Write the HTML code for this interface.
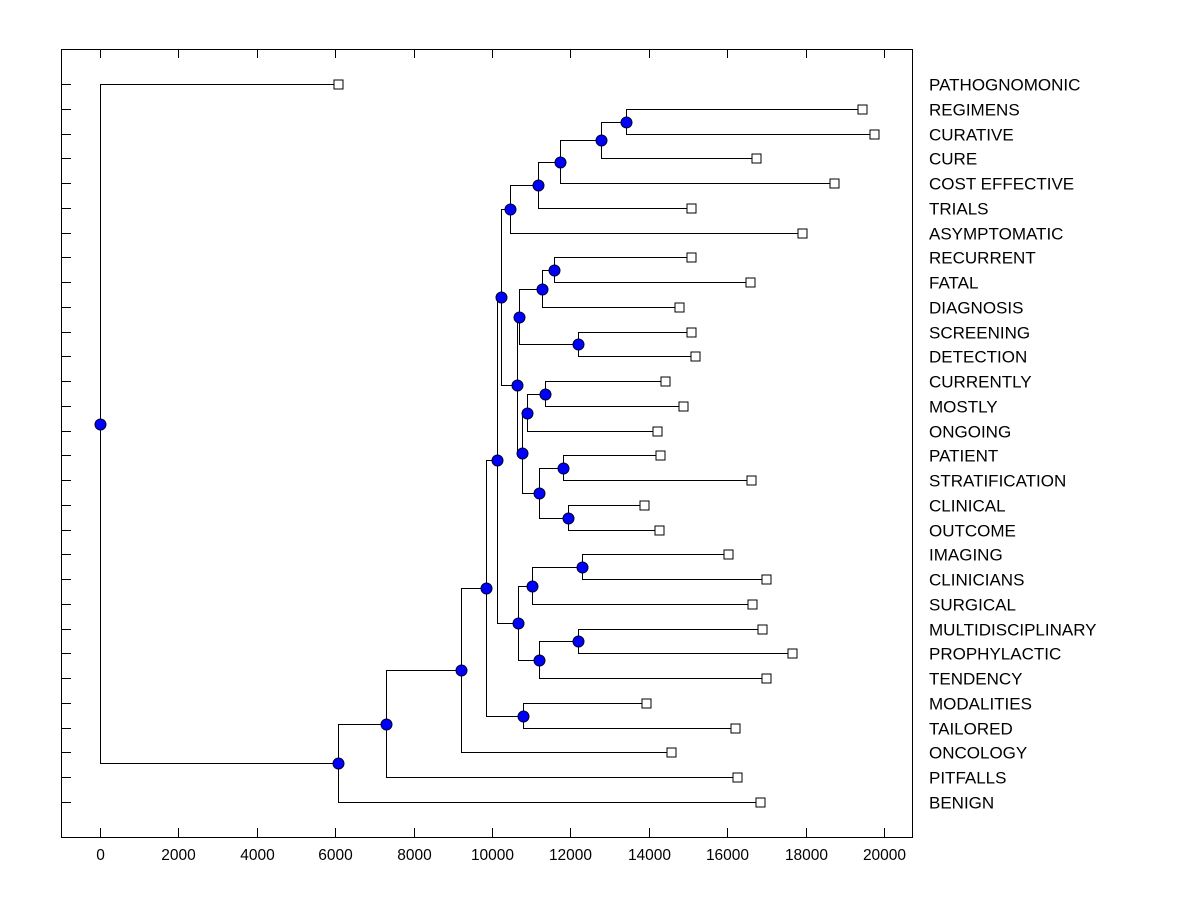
<!DOCTYPE html>
<html><head><meta charset="utf-8"><style>
html,body{margin:0;padding:0;background:#fff;}
svg{display:block;font-family:"Liberation Sans",Arial,sans-serif;}
</style></head><body>
<svg id="chart" width="1200" height="900" viewBox="0 0 1200 900">
<rect x="61.5" y="49.5" width="851" height="788" fill="none" stroke="#000" stroke-width="1"/>
<g id="axis"></g>
<g id="yt"></g>
<g id="links"></g>
<g id="leaves"></g>
<g id="nodes"></g>
<g id="labels"></g>
</svg>
<script>
const labels = ["PATHOGNOMONIC","REGIMENS","CURATIVE","CURE","COST EFFECTIVE","TRIALS","ASYMPTOMATIC","RECURRENT","FATAL","DIAGNOSIS","SCREENING","DETECTION","CURRENTLY","MOSTLY","ONGOING","PATIENT","STRATIFICATION","CLINICAL","OUTCOME","IMAGING","CLINICIANS","SURGICAL","MULTIDISCIPLINARY","PROPHYLACTIC","TENDENCY","MODALITIES","TAILORED","ONCOLOGY","PITFALLS","BENIGN"];
const leafValues = [6071,19439,19745,16735,18724,15077,17908,15077,16582,14770,15077,15179,14413,14872,14209,14286,16607,13878,14260,16020,16990,16633,16888,17653,16990,13929,16199,14566,16250,16837];
// merges: [childA, childB, height]; leaves are "L<i>", nodes "N<i>"
const merges = [
 ["L1","L2",13418],["N0","L3",12781],["N1","L4",11735],["N2","L5",11173],["N3","L6",10459],
 ["L7","L8",11582],["N5","L9",11276],["L10","L11",12194],["N6","N7",10689],
 ["L12","L13",11352],["N9","L14",10893],["L15","L16",11811],["L17","L18",11939],["N11","N12",11199],
 ["N10","N13",10765],["N8","N14",10638],["N4","N15",10230],
 ["L19","L20",12296],["N17","L21",11020],["L22","L23",12194],["N19","L24",11199],["N18","N20",10663],
 ["N16","N21",10128],["L25","L26",10791],["N22","N23",9847],["N24","L27",9209],["N25","L28",7296],
 ["N26","L29",6071],["L0","N27",0]
];
const xTicks = [0,2000,4000,6000,8000,10000,12000,14000,16000,18000,20000];

const NS="http://www.w3.org/2000/svg";
const X = v => Math.round(100 + v*0.0392)+0.5;
const Y = i => Math.round(84 + i*(802-84)/29)+0.5;
function mk(tag, attrs, parent){const e=document.createElementNS(NS,tag);for(const k in attrs)e.setAttribute(k,attrs[k]);parent.appendChild(e);return e;}
const g = id => document.getElementById(id);

xTicks.forEach(t=>{
  const x=X(t);
  const l1=mk("line",{x1:x,x2:x,y1:837,y2:828,stroke:"#000"},g("axis"));
  
  
  const l2=mk("line",{x1:x,x2:x,y1:50,y2:58,stroke:"#000"},g("axis"));
  
  
  const tx=mk("text",{x:x,y:860,"text-anchor":"middle","font-size":"15.5"},g("axis"));
  tx.textContent=t;
  
  
});

const pos={};
labels.forEach((lab,i)=>{
  pos["L"+i]={x:X(leafValues[i]),y:Y(i)};
  const tk=mk("line",{x1:62,x2:71,y1:Y(i),y2:Y(i),stroke:"#000"},g("yt"));
  
  
  const tx=mk("text",{x:929,y:Y(i)+6,"font-size":"17"},g("labels"));
  tx.textContent=lab;
  
  
});
const nodePts=[];
merges.forEach((m,k)=>{
  const a=pos[m[0]], b=pos[m[1]], x=X(m[2]);
  const y=Math.round((a.y+b.y)/2 - 0.5)+0.5;
  pos["N"+k]={x:x,y:y};
  const p=mk("path",{d:`M${a.x} ${a.y}H${x}V${b.y}H${b.x}`,fill:"none",stroke:"#000","stroke-width":"1"},g("links"));
  
  
  nodePts.push([x,y]);
});
labels.forEach((lab,i)=>{
  const p=pos["L"+i];
  const r=mk("rect",{x:p.x-4.5,y:p.y-4.5,width:9,height:9,fill:"#fff",stroke:"#000"},g("leaves"));
  
  
});
nodePts.forEach(([x,y])=>{
  const c=mk("circle",{cx:x,cy:y,r:5.5,fill:"#0000ff",stroke:"#000033","stroke-width":"1"},g("nodes"));
  
  
});
</script>
</body></html>
